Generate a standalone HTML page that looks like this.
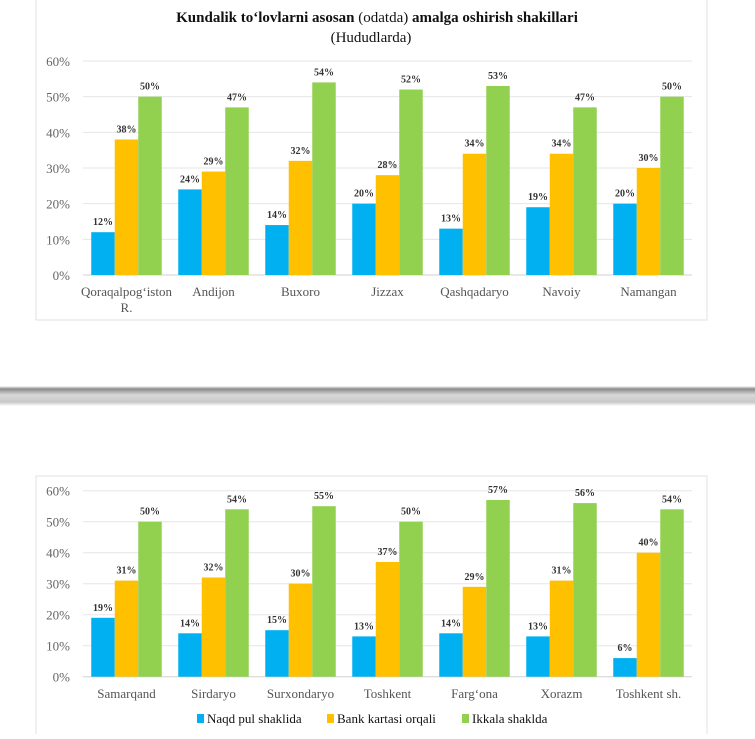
<!DOCTYPE html>
<html><head><meta charset="utf-8"><style>
body{margin:0;background:#fff;width:755px;height:734px;overflow:hidden;font-family:"Liberation Serif",serif}
</style></head><body>
<svg width="755" height="734" viewBox="0 0 755 734" xmlns="http://www.w3.org/2000/svg">
<defs><linearGradient id="sep" x1="0" y1="0" x2="0" y2="1">
<stop offset="0" stop-color="#fff"/><stop offset="0.15" stop-color="#8a8a8a"/><stop offset="0.45" stop-color="#d8d8d8"/><stop offset="0.8" stop-color="#c8c8c8"/><stop offset="1" stop-color="#fff"/></linearGradient></defs>
<rect x="36" y="-2" width="671" height="322" fill="#fff" stroke="#e2e2e2"/>
<text x="377" y="22" text-anchor="middle" font-size="15" font-weight="bold" fill="#111">Kundalik to‘lovlarni asosan <tspan font-weight="normal">(odatda)</tspan> amalga oshirish shakillari</text>
<text x="371" y="42" text-anchor="middle" font-size="15" fill="#111">(Hududlarda)</text>
<rect x="0" y="386" width="755" height="20" fill="url(#sep)"/>
<rect x="36" y="476" width="671" height="270" fill="#fff" stroke="#e2e2e2"/>
<g id="top"></g>
<g id="bot"></g>
<g font-size="13" fill="#111">
<rect x="197" y="714" width="7" height="9" fill="#00b0f0"/>
<text x="207" y="723">Naqd pul shaklida</text>
<rect x="327" y="714" width="7" height="9" fill="#ffc000"/>
<text x="337" y="723">Bank kartasi orqali</text>
<rect x="462" y="714" width="7" height="9" fill="#92d050"/>
<text x="472" y="723">Ikkala shaklda</text>
</g>
</svg>
<script>
const topCats=["Qoraqalpog‘iston|R.","Andijon","Buxoro","Jizzax","Qashqadaryo","Navoiy","Namangan"];
const topNaqd=[12,24,14,20,13,19,20];
const topBank=[38,29,32,28,34,34,30];
const topIkkala=[50,47,54,52,53,47,50];
const botCats=["Samarqand","Sirdaryo","Surxondaryo","Toshkent","Farg‘ona","Xorazm","Toshkent sh."];
const botNaqd=[19,14,15,13,14,13,6];
const botBank=[31,32,30,37,29,31,40];
const botIkkala=[50,54,55,50,57,56,54];
const ticks=[0,10,20,30,40,50,60];
const colors=["#00b0f0","#ffc000","#92d050"];
const NS="http://www.w3.org/2000/svg";
function mk(tag,attrs,parent){const e=document.createElementNS(NS,tag);for(const k in attrs)e.setAttribute(k,attrs[k]);parent.appendChild(e);return e;}
function draw(g,cats,series,y0,y60,labY){
  const x0=83,x1=692,bw=23.5;
  const ys=v=>y0-(y0-y60)*v/60;
  const step=(x1-x0)/cats.length;
  ticks.forEach(t=>{
    const l=mk("line",{x1:x0,x2:x1,y1:ys(t),y2:ys(t),stroke:t===0?"#d0d0d0":"#e6e6e6","stroke-width":1},g);
    
    
    const tx=mk("text",{x:70,y:ys(t)+5,"text-anchor":"end","font-size":13,fill:"#666"},g);
    tx.textContent=t+"%";
    
    
  });
  cats.forEach((c,i)=>{
    const cx=x0+step*(i+0.5);
    series.forEach((s,j)=>{
      const bx=cx-1.5*bw+j*bw, v=s[i];
      const r=mk("rect",{x:bx,y:ys(v),width:bw,height:y0-ys(v),fill:colors[j]},g);
      
      
      const lt=mk("text",{x:bx+bw/2,y:ys(v)-7,"text-anchor":"middle","font-size":10,"font-weight":"bold",fill:"#333"},g);
      lt.textContent=v+"%";
      
      
    });
    c.split("|").forEach((ln,k)=>{
      const t=mk("text",{x:cx,y:labY+k*16,"text-anchor":"middle","font-size":13,fill:"#555"},g);
      t.textContent=ln;
      
      
    });
  });
}
draw(document.getElementById("top"),topCats,[topNaqd,topBank,topIkkala],275,61,296);
draw(document.getElementById("bot"),botCats,[botNaqd,botBank,botIkkala],676.7,490.7,698);
</script>
</body></html>
